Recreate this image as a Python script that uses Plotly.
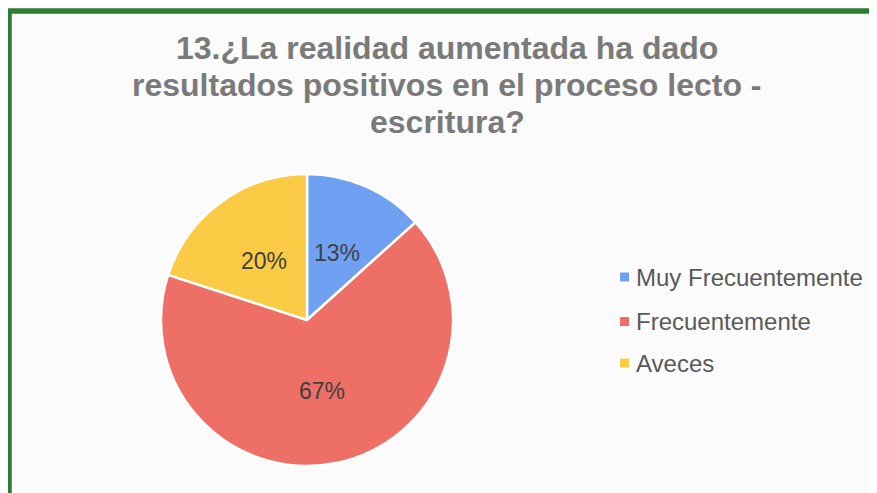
import math
import plotly.graph_objects as go

labels = ["Muy Frecuentemente", "Frecuentemente", "Aveces"]
values = [2, 10, 3]
colors = ["#6FA0F1", "#EE6F66", "#FCCB45"]
title_lines = ["13.¿La realidad aumentada ha dado",
               "resultados positivos en el proceso lecto -",
               "escritura?"]

W, H = 877, 493
OFF = 8  # page body margin offset


def px(x):
    return (x - OFF) / W


def py(y):
    return 1 - (y - OFF) / H


CX, CY, R = 307, 320, 146
FONT = "Liberation Sans, Arial"

fig = go.Figure()
fig.add_trace(go.Pie(
    labels=labels, values=values, sort=False, direction="clockwise", rotation=0,
    marker=dict(colors=colors, line=dict(color="white", width=2.5)),
    textinfo="none",
    domain=dict(x=[px(CX - R), px(CX + R)], y=[py(CY + R), py(CY - R)]),
    showlegend=False, hoverinfo="label+percent",
))

shapes = [dict(type="rect", xref="paper", yref="paper",
               x0=px(9), x1=px(W + 20), y0=-0.1, y1=py(11),
               line=dict(color="#2E7D32", width=5.5), fillcolor="rgba(0,0,0,0)", layer="above")]
annotations = []
for i, line in enumerate(title_lines):
    annotations.append(dict(text="<b>" + line + "</b>", xref="paper", yref="paper",
                            x=px(447), y=py(48 + 37 * i), xanchor="center", yanchor="middle",
                            showarrow=False,
                            font=dict(family=FONT, size=32, color="#7A7A7A")))

# data labels: percent at half radius along each slice's mid angle
total = sum(values)
cum = 0
for v in values:
    mid = (cum + v / 2) / total * 2 * math.pi
    cum += v
    lx = CX + 0.5 * R * math.sin(mid)
    ly = CY - 0.5 * R * math.cos(mid)
    annotations.append(dict(text=f"{round(100 * v / total)}%", xref="paper", yref="paper",
                            x=px(lx), y=py(ly), xanchor="center", yanchor="middle", showarrow=False,
                            font=dict(family=FONT, size=23, color="#404040")))

leg_y = [277, 321.5, 363]
for lab, col, ly in zip(labels, colors, leg_y):
    shapes.append(dict(type="rect", xref="paper", yref="paper",
                       x0=px(620), x1=px(629), y0=py(ly + 4.5), y1=py(ly - 4.5),
                       fillcolor=col, line=dict(width=0)))
    annotations.append(dict(text=lab, xref="paper", yref="paper", x=px(634), y=py(ly),
                            xanchor="left", yanchor="middle", showarrow=False,
                            font=dict(family=FONT, size=24, color="#595959")))

fig.update_layout(width=W, height=H, margin=dict(l=0, r=0, t=0, b=0),
                  paper_bgcolor="#FBFBFB", plot_bgcolor="#FBFBFB",
                  shapes=shapes, annotations=annotations)
fig.write_html("out.html")
